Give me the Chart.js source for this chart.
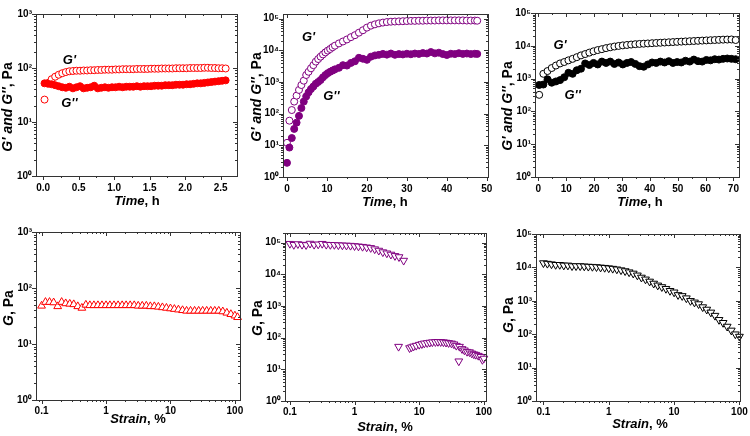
<!DOCTYPE html>
<html>
<head>
<meta charset="utf-8">
<script src="https://cdn.jsdelivr.net/npm/chart.js@4.4.1/dist/chart.umd.min.js"></script>
<style>
html, body { margin: 0; padding: 0; background: #fff; }
#page { position: relative; width: 750px; height: 436px; }
canvas { position: absolute; }
</style>
</head>
<body>
<div id="page">
<canvas id="p1" width="250" height="218" style="left:0;top:0"></canvas>
<canvas id="p2" width="250" height="218" style="left:250px;top:0"></canvas>
<canvas id="p3" width="250" height="218" style="left:500px;top:0"></canvas>
<canvas id="p4" width="250" height="218" style="left:0;top:218px"></canvas>
<canvas id="p5" width="250" height="218" style="left:250px;top:218px"></canvas>
<canvas id="p6" width="250" height="218" style="left:500px;top:218px"></canvas>
</div>
<script>
// ---- time sweeps (h) ----
const timeRed = [0.02, 0.07, 0.12, 0.17, 0.22, 0.27, 0.32, 0.37, 0.42, 0.47, 0.52, 0.57, 0.62, 0.67, 0.72, 0.77, 0.82, 0.87, 0.92, 0.97, 1.02, 1.07, 1.12, 1.17, 1.22, 1.27, 1.32, 1.37, 1.42, 1.47, 1.52, 1.57, 1.62, 1.67, 1.72, 1.77, 1.82, 1.87, 1.92, 1.97, 2.02, 2.07, 2.12, 2.17, 2.22, 2.27, 2.32, 2.37, 2.42, 2.47, 2.52, 2.57];
const gPrimeRed = [26, 53, 62, 69, 75, 80, 84, 87, 88, 89, 89, 90, 90, 91, 91, 92, 92, 93, 93, 93, 94, 94, 95, 95, 95, 95, 96, 96, 96, 96, 97, 97, 97, 98, 98, 98, 98, 99, 99, 99, 99, 100, 100, 100, 100, 101, 101, 100, 100, 99, 99, 98];
const gDoubleRed = [52, 51, 50, 48, 46, 44, 43, 45, 42, 44, 46, 42, 43, 44, 47, 42, 43, 44, 43, 44, 44, 45, 44, 45, 45, 45, 46, 45, 46, 46, 46, 47, 47, 47, 48, 48, 48, 49, 49, 49, 50, 50, 51, 52, 52, 53, 54, 55, 56, 57, 58, 59];

const timePurple = [0, 0.6, 1.2, 1.8, 2.4, 3.0, 3.6, 4.2, 4.8, 5.4, 6.0, 6.6, 7.2, 7.8, 8.4, 9.0, 9.6, 10.2, 10.8, 11.4, 12, 13, 14, 15, 16, 17, 18, 19, 20, 21, 22, 23, 24, 25, 26, 27, 28, 29, 30, 31, 32, 33, 34, 35, 36, 37, 38, 39, 40, 41, 42, 43, 44, 45, 46, 47, 47.6];
const gPrimePurple = [12, 60, 130, 240, 370, 560, 800, 1100, 1660, 2100, 2700, 3400, 4400, 5300, 6300, 7400, 8600, 9800, 11000, 12500, 14000, 16500, 19000, 22000, 26000, 30000, 36000, 43000, 52000, 60000, 66000, 71000, 75000, 78000, 80000, 81000, 82000, 83000, 84000, 85000, 85000, 86000, 86000, 87000, 87000, 87000, 88000, 88000, 88000, 88000, 88000, 88000, 88000, 87000, 87000, 87000, 86000];
const gDoublePurple = [2.8, 8.5, 17, 33, 52, 85, 150, 240, 350, 470, 600, 720, 880, 1000, 1150, 1400, 1650, 1900, 2100, 2300, 2500, 2800, 3400, 3300, 4000, 4500, 5800, 5400, 5000, 6300, 6900, 7200, 7700, 7300, 7900, 7200, 7600, 7400, 7800, 7500, 7900, 7700, 8200, 7900, 8800, 8000, 8400, 7600, 7100, 7800, 7600, 8100, 7700, 7900, 7600, 7800, 7700];

const timeBlack = [0.3, 1.8, 3.3, 4.8, 6.3, 7.8, 9.3, 10.8, 12.3, 13.8, 15.3, 16.8, 18.3, 19.8, 21.3, 22.8, 24.3, 25.8, 27.3, 28.8, 30.3, 31.8, 33.3, 34.8, 36.3, 37.8, 39.3, 40.8, 42.3, 43.8, 45.3, 46.8, 48.3, 49.8, 51.3, 52.8, 54.3, 55.8, 57.3, 58.8, 60.3, 61.8, 63.3, 64.8, 66.3, 67.8, 69.3, 70.8];
const gPrimeBlack = [320, 1400, 1700, 2100, 2500, 2900, 3200, 3600, 4000, 4500, 5100, 5600, 6200, 6800, 7400, 7900, 8500, 9000, 9500, 9900, 10300, 10600, 10900, 11200, 11400, 11600, 11800, 12000, 12200, 12400, 12600, 12800, 13000, 13200, 13400, 13600, 13800, 14000, 14200, 14400, 14600, 14800, 15000, 15200, 15400, 15500, 15600, 15000];
const gDoubleBlack = [640, 660, 950, 750, 820, 900, 1100, 1500, 1400, 1800, 2000, 2900, 2600, 3000, 2700, 3300, 3000, 3300, 2800, 3100, 2700, 3000, 3200, 2800, 2400, 2300, 2700, 3100, 3000, 3300, 3100, 3400, 3000, 3200, 3100, 3500, 3300, 3800, 3400, 3300, 3700, 3600, 3900, 3800, 4000, 4100, 4000, 3900];

// ---- strain sweeps (%) ----
const strainRed = [0.1, 0.115, 0.133, 0.154, 0.178, 0.205, 0.237, 0.274, 0.316, 0.365, 0.422, 0.487, 0.562, 0.649, 0.75, 0.866, 1, 1.15, 1.33, 1.54, 1.78, 2.05, 2.37, 2.74, 3.16, 3.65, 4.22, 4.87, 5.62, 6.49, 7.5, 8.66, 10, 11.5, 13.3, 15.4, 17.8, 20.5, 23.7, 27.4, 31.6, 36.5, 42.2, 48.7, 56.2, 64.9, 75, 86.6, 100, 110];
const gRed = [48, 56, 56, 55, 47, 56, 53, 52, 51, 47, 44, 50, 49, 49, 49, 49, 49, 49, 49, 49, 49, 49, 49, 49, 48, 48, 48, 47, 47, 46, 45, 44, 43, 42, 41, 40, 39, 39, 39, 39, 39, 39, 39, 39, 39, 38, 36, 34, 32, 30];

const strainPurpleHigh = [0.1, 0.115, 0.133, 0.154, 0.178, 0.205, 0.237, 0.274, 0.316, 0.365, 0.422, 0.487, 0.562, 0.649, 0.75, 0.866, 1, 1.15, 1.33, 1.54, 1.78, 2.05, 2.37, 2.74, 3.16, 3.65, 4.22, 4.87, 5.75];
const gPurpleHigh = [92000, 85000, 90000, 86000, 84000, 93000, 86000, 88000, 92000, 86000, 85000, 85000, 83000, 82000, 81000, 80000, 78000, 76000, 74000, 71000, 68000, 62000, 56000, 50000, 46000, 42000, 38000, 35000, 27000];
const strainPurpleLow = [4.8, 7.1, 7.6, 8.2, 9, 10, 11, 12, 13.3, 14.6, 16, 17.8, 19.5, 21.5, 23.7, 26, 28.5, 31.6, 34.5, 37.5, 41, 42, 46, 50, 55, 60, 65, 70, 75, 82, 90, 95, 100];
const gPurpleLow = [52, 47, 50, 53, 56, 60, 63, 66, 68, 70, 72, 73, 74, 73, 72, 70, 68, 66, 62, 56, 18, 52, 44, 40, 36, 35, 32, 30, 29, 27, 25, 20, 22];

const strainBlack = [0.1, 0.115, 0.133, 0.154, 0.178, 0.205, 0.237, 0.274, 0.316, 0.365, 0.422, 0.487, 0.562, 0.649, 0.75, 0.866, 1, 1.15, 1.33, 1.54, 1.78, 2.05, 2.37, 2.74, 3.16, 3.65, 4.22, 4.87, 5.62, 6.49, 7.5, 8.66, 10, 11.5, 13.3, 15.4, 17.8, 20.5, 23.7, 27.4, 31.6, 36.5, 42.2, 48.7, 56.2, 64.9, 75, 86.6, 100];
const gBlack = [13500, 13000, 12500, 12000, 12000, 11500, 11500, 11000, 11000, 11000, 10800, 10600, 10500, 10300, 10000, 9800, 9500, 9200, 8800, 8300, 7800, 7200, 6600, 5800, 5000, 4400, 3800, 3300, 2900, 2600, 2300, 2000, 1800, 1500, 1400, 1200, 1000, 900, 800, 650, 550, 450, 360, 270, 220, 170, 130, 100, 85];

const RED = '#ff0000';
const PURPLE = '#800080';
const BLACK = '#000000';
const FONT = '"Liberation Sans", Arial, sans-serif';
const SUP = ['\u2070', '\u00b9', '\u00b2', '\u00b3', '\u2074', '\u2075'];

function isPow10(v) {
    const l = Math.log10(v);
    return Math.abs(l - Math.round(l)) < 1e-6;
}
function decadeLabel(v) {
    return isPow10(v) ? '10' + SUP[Math.round(Math.log10(v))] : '';
}
function strainLabel(v) {
    if (!isPow10(v)) return '';
    const e = Math.round(Math.log10(v));
    return e < 0 ? Math.pow(10, e).toFixed(-e) : String(Math.pow(10, e));
}

// tick marks: mantissa 1..9 on log axes, every step on linear axes
function tickMarks(scale) {
    return scale.ticks.map(t => {
        const v = t.value;
        if (v < scale.min - 1e-9 || v > scale.max + 1e-9) return null;
        if (scale.type === 'logarithmic') {
            const e = Math.floor(Math.log10(v) + 1e-9);
            const m = v / Math.pow(10, e);
            if (Math.abs(m - Math.round(m)) > 1e-6) return null;
            return {v, major: Math.round(m) === 1};
        }
        return {v, major: t.label !== ''};
    }).filter(Boolean);
}

function drawRich(ctx, parts, x, y, rot, size) {
    ctx.save();
    ctx.translate(x, y);
    ctx.rotate(rot);
    const fonts = parts.map(p => (p[1] ? 'italic ' : '') + 'bold ' + size + 'px ' + FONT);
    let total = 0;
    const widths = parts.map((p, i) => {
        ctx.font = fonts[i];
        const w = ctx.measureText(p[0]).width;
        total += w;
        return w;
    });
    let cx = -total / 2;
    ctx.textAlign = 'left';
    ctx.textBaseline = 'middle';
    ctx.fillStyle = '#000';
    parts.forEach((p, i) => {
        ctx.font = fonts[i];
        ctx.fillText(p[0], cx, 0);
        cx += widths[i];
    });
    ctx.restore();
}

const framePlugin = {
    id: 'frame',
    afterDraw(chart, args, opts) {
        const {ctx, chartArea: a} = chart;
        const xs = chart.scales.x, ys = chart.scales.y;
        ctx.save();
        ctx.strokeStyle = '#333';
        ctx.lineWidth = 1;
        ctx.strokeRect(a.left + 0.5, a.top + 0.5, a.right - a.left, a.bottom - a.top);
        ctx.beginPath();
        tickMarks(xs).forEach(t => {
            const px = Math.round(xs.getPixelForValue(t.v)) + 0.5;
            const len = t.major ? 4 : 2;
            ctx.moveTo(px, a.bottom); ctx.lineTo(px, a.bottom + len);
            ctx.moveTo(px, a.top); ctx.lineTo(px, a.top + len);
        });
        tickMarks(ys).forEach(t => {
            const py = Math.round(ys.getPixelForValue(t.v)) + 0.5;
            const len = t.major ? 4 : 2;
            ctx.moveTo(a.left, py); ctx.lineTo(a.left - len, py);
            ctx.moveTo(a.right, py); ctx.lineTo(a.right - len, py);
        });
        ctx.stroke();

        ctx.fillStyle = '#000';
        ctx.textAlign = 'center';
        ctx.textBaseline = 'middle';
        ctx.font = 'italic bold 13px ' + FONT;
        (opts.notes || []).forEach(n => {
            ctx.fillText(n.text, xs.getPixelForValue(n.x), ys.getPixelForValue(n.y));
        });
        drawRich(ctx, opts.xTitle, opts.xAt[0], opts.xAt[1], 0, 13);
        drawRich(ctx, opts.yTitle, opts.yAt[0], opts.yAt[1], -Math.PI / 2, 14);
        ctx.restore();
    }
};

function series(xv, yv, color, shape, filled, rotation) {
    return {
        data: xv.map((x, i) => ({x: x, y: yv[i]})),
        showLine: false,
        pointStyle: shape,
        pointRotation: rotation || 0,
        pointRadius: shape === 'triangle' ? 4.5 : 3.5,
        pointBorderWidth: 1,
        pointBorderColor: color,
        pointBackgroundColor: filled ? color : '#ffffff',
        clip: 6
    };
}

function axis(spec, fit) {
    const tickFont = {family: FONT, weight: 'bold', size: 10};
    const ax = {
        type: spec.type,
        min: spec.min,
        max: spec.max,
        grid: {display: false, drawTicks: false},
        border: {display: false},
        ticks: {
            autoSkip: false,
            maxRotation: 0,
            minRotation: 0,
            color: '#000',
            font: tickFont,
            padding: spec.pad,
            callback: spec.label
        },
        afterFit: fit
    };
    if (spec.type === 'linear') {
        ax.ticks.stepSize = spec.step;
        ax.ticks.includeBounds = false;
    }
    return ax;
}

function linLabel(every, dec) {
    return v => Math.abs(v / every - Math.round(v / every)) < 1e-6 ? v.toFixed(dec) : '';
}

function renderPanel(id, p) {
    const W = 250, H = 218;
    new Chart(document.getElementById(id), {
        type: 'scatter',
        data: {datasets: p.datasets},
        options: {
            responsive: false,
            animation: false,
            events: [],
            layout: {padding: {left: 0, top: p.box.top, right: W - p.box.right, bottom: 0}},
            plugins: {
                legend: {display: false},
                tooltip: {enabled: false},
                frame: {xTitle: p.xTitle, yTitle: p.yTitle, xAt: p.xAt, yAt: p.yAt, notes: p.notes}
            },
            scales: {
                x: Object.assign(axis(p.x, s => { s.height = H - p.box.bottom; }), {position: 'bottom'}),
                y: Object.assign(axis(p.y, s => { s.width = p.box.left; }), {position: 'left'})
            }
        },
        plugins: [framePlugin]
    });
}

const gTitle = [['G\' and G\'\'', true], [', Pa', false]];
const gOnly = [['G', true], [', Pa', false]];
const timeTitle = [['Time', true], [', h', false]];
const strainTitle = [['Strain', true], [', %', false]];

renderPanel('p1', {
    box: {left: 36, right: 237, top: 14, bottom: 176},
    x: {type: 'linear', min: -0.1, max: 2.73, step: 0.25, label: linLabel(0.5, 1), pad: 6},
    y: {type: 'logarithmic', min: 1, max: 1000, label: decadeLabel, pad: 4},
    datasets: [series(timeRed, gDoubleRed, RED, 'circle', true), series(timeRed, gPrimeRed, RED, 'circle', false)],
    xTitle: timeTitle, yTitle: gTitle, xAt: [137, 201], yAt: [8, 107],
    notes: [{x: 0.37, y: 141, text: 'G\''}, {x: 0.37, y: 22, text: 'G\'\''}]
});

renderPanel('p2', {
    box: {left: 33, right: 238, top: 14, bottom: 177},
    x: {type: 'linear', min: -1, max: 50.3, step: 5, label: linLabel(10, 0), pad: 6},
    y: {type: 'logarithmic', min: 1, max: 140000, label: decadeLabel, pad: 4},
    datasets: [series(timePurple, gDoublePurple, PURPLE, 'circle', true), series(timePurple, gPrimePurple, PURPLE, 'circle', false)],
    xTitle: timeTitle, yTitle: gTitle, xAt: [135, 202], yAt: [7, 97],
    notes: [{x: 5.4, y: 26000, text: 'G\''}, {x: 11.1, y: 340, text: 'G\'\''}]
});

renderPanel('p3', {
    box: {left: 35, right: 239, top: 13, bottom: 177},
    x: {type: 'linear', min: -1.2, max: 72, step: 5, label: linLabel(10, 0), pad: 6},
    y: {type: 'logarithmic', min: 1, max: 100000, label: decadeLabel, pad: 4},
    datasets: [series(timeBlack, gDoubleBlack, BLACK, 'circle', true), series(timeBlack, gPrimeBlack, BLACK, 'circle', false)],
    xTitle: timeTitle, yTitle: gTitle, xAt: [140, 202], yAt: [8, 106],
    notes: [{x: 7.8, y: 10500, text: 'G\''}, {x: 12.3, y: 316, text: 'G\'\''}]
});

renderPanel('p4', {
    box: {left: 36, right: 240, top: 14, bottom: 182},
    x: {type: 'logarithmic', min: 0.082, max: 120, label: strainLabel, pad: 5},
    y: {type: 'logarithmic', min: 1, max: 1000, label: decadeLabel, pad: 4},
    datasets: [series(strainRed, gRed, RED, 'triangle', false)],
    xTitle: strainTitle, yTitle: gOnly, xAt: [138, 201], yAt: [9, 90]
});

renderPanel('p5', {
    box: {left: 35, right: 236, top: 15, bottom: 183},
    x: {type: 'logarithmic', min: 0.084, max: 108, label: strainLabel, pad: 5},
    y: {type: 'logarithmic', min: 1, max: 200000, label: decadeLabel, pad: 4},
    datasets: [series(strainPurpleHigh, gPurpleHigh, PURPLE, 'triangle', false, 180),
               series(strainPurpleLow, gPurpleLow, PURPLE, 'triangle', false, 180)],
    xTitle: strainTitle, yTitle: gOnly, xAt: [135, 209], yAt: [8, 100]
});

renderPanel('p6', {
    box: {left: 36, right: 240, top: 16, bottom: 183},
    x: {type: 'logarithmic', min: 0.077, max: 102, label: strainLabel, pad: 5},
    y: {type: 'logarithmic', min: 1, max: 100000, label: decadeLabel, pad: 4},
    datasets: [series(strainBlack, gBlack, BLACK, 'triangle', false, 180)],
    xTitle: strainTitle, yTitle: gOnly, xAt: [140, 206], yAt: [9, 97]
});
</script>
</body>
</html>
